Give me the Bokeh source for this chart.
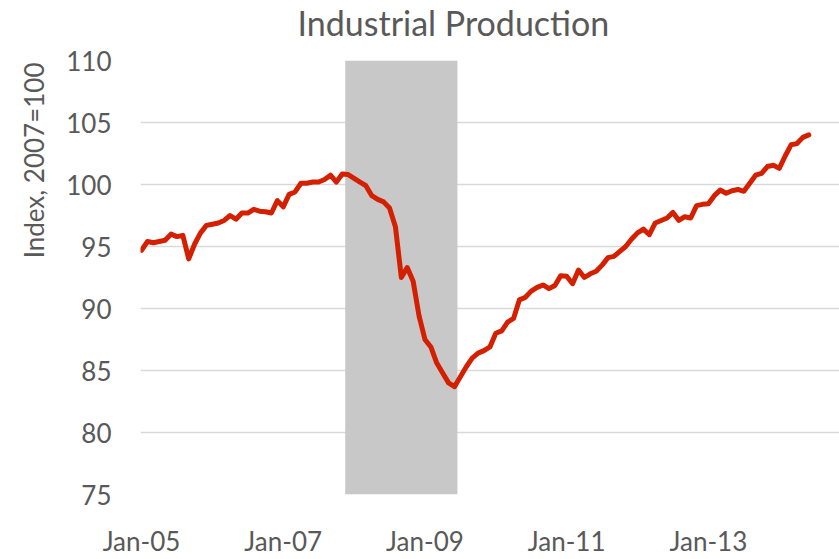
from bokeh.plotting import figure
from bokeh.models import Range1d, FixedTicker, Title
from bokeh.embed import file_html
from bokeh.resources import INLINE

# Monthly industrial production index (2007=100), Jan-2005 .. Jun-2014
ip_index = [
    94.7, 95.4, 95.3, 95.4, 95.5, 96.0, 95.8, 95.9, 94.0, 95.2, 96.1, 96.7,    # 2005
    96.8, 96.9, 97.1, 97.5, 97.2, 97.7, 97.7, 98.0, 97.85, 97.8, 97.7, 98.7,   # 2006
    98.2, 99.2, 99.4, 100.1, 100.1, 100.2, 100.2, 100.4, 100.75, 100.2, 100.85, 100.8,  # 2007
    100.5, 100.2, 99.9, 99.1, 98.8, 98.6, 98.1, 96.6, 92.5, 93.3, 92.2, 89.4,  # 2008
    87.5, 86.9, 85.6, 84.8, 84.0, 83.7, 84.5, 85.3, 86.0, 86.4, 86.6, 86.9,    # 2009
    88.0, 88.2, 88.9, 89.2, 90.7, 90.9, 91.4, 91.7, 91.9, 91.6, 91.85, 92.65,  # 2010
    92.6, 92.0, 93.1, 92.5, 92.8, 93.0, 93.5, 94.1, 94.2, 94.6, 95.0, 95.6,    # 2011
    96.1, 96.4, 95.95, 96.9, 97.1, 97.3, 97.75, 97.1, 97.4, 97.3, 98.3, 98.4,  # 2012
    98.45, 99.1, 99.55, 99.3, 99.5, 99.6, 99.45, 100.1, 100.75, 100.9, 101.45, 101.55,  # 2013
    101.3, 102.3, 103.2, 103.3, 103.8, 104.0,                                   # 2014
]
month_index = list(range(len(ip_index)))

tick_months = [0, 24, 48, 72, 96]
tick_labels = ["Jan-05", "Jan-07", "Jan-09", "Jan-11", "Jan-13"]
y_ticks = [75, 80, 85, 90, 95, 100, 105, 110]

# Recession: Dec-2007 (month 35) through Jun-2009 (month 53)
recession_first = [35]
recession_last = [53]

title_text = "Industrial Production"
y_label_text = "Index, 2007=100"

TEXT = "#595959"
FONT = "Lato"

p = figure(width=839, height=559, output_backend="svg", toolbar_location=None,
           title=None,
           x_range=Range1d(-0.17, 118.2), y_range=Range1d(75, 110),
           min_border_left=140, min_border_right=0, min_border_top=60,
           min_border_bottom=65)

# spacer between the plot frame and the title (closest to the frame)
p.add_layout(Title(text=" ", text_font_size="12px", standoff=0,
                   text_color="#ffffff"), "above")
p.add_layout(Title(text=title_text, align="left", offset=157, vertical_align="top",
                   standoff=0, text_font=FONT, text_font_size="34px",
                   text_font_style="normal", text_color=TEXT), "above")

p.add_layout(Title(text=y_label_text, align="right", offset=2, vertical_align="bottom",
                   standoff=28, text_font=FONT, text_font_size="26px",
                   text_font_style="normal", text_color=TEXT), "left")

p.quad(left=[s - 0.5 for s in recession_first], right=[e + 0.5 for e in recession_last],
       bottom=[75], top=[110], fill_color="#c8c8c8", line_color=None)

p.line(month_index, ip_index, line_color="#d42000", line_width=5, line_join="round",
       line_cap="round")

p.outline_line_color = None
p.xgrid.grid_line_color = None
p.ygrid.grid_line_color = "#d9d9d9"
p.ygrid.grid_line_width = 1.5
p.ygrid.level = "underlay"

p.yaxis.ticker = FixedTicker(ticks=y_ticks)
p.xaxis.ticker = FixedTicker(ticks=tick_months)
p.xaxis.major_label_overrides = {m: l for m, l in zip(tick_months, tick_labels)}

for ax in (p.xaxis[0], p.yaxis[0]):
    ax.axis_line_color = None
    ax.major_tick_line_color = None
    ax.minor_tick_line_color = None
    ax.major_tick_out = 0
    ax.major_tick_in = 0
    ax.minor_tick_out = 0
    ax.axis_label_standoff = 0
    ax.major_label_text_font = FONT
    ax.major_label_text_font_size = "26px"
    ax.major_label_text_color = TEXT

p.yaxis.major_label_standoff = 29
p.xaxis.major_label_standoff = 30

open("out.html", "w").write(file_html(p, INLINE))
